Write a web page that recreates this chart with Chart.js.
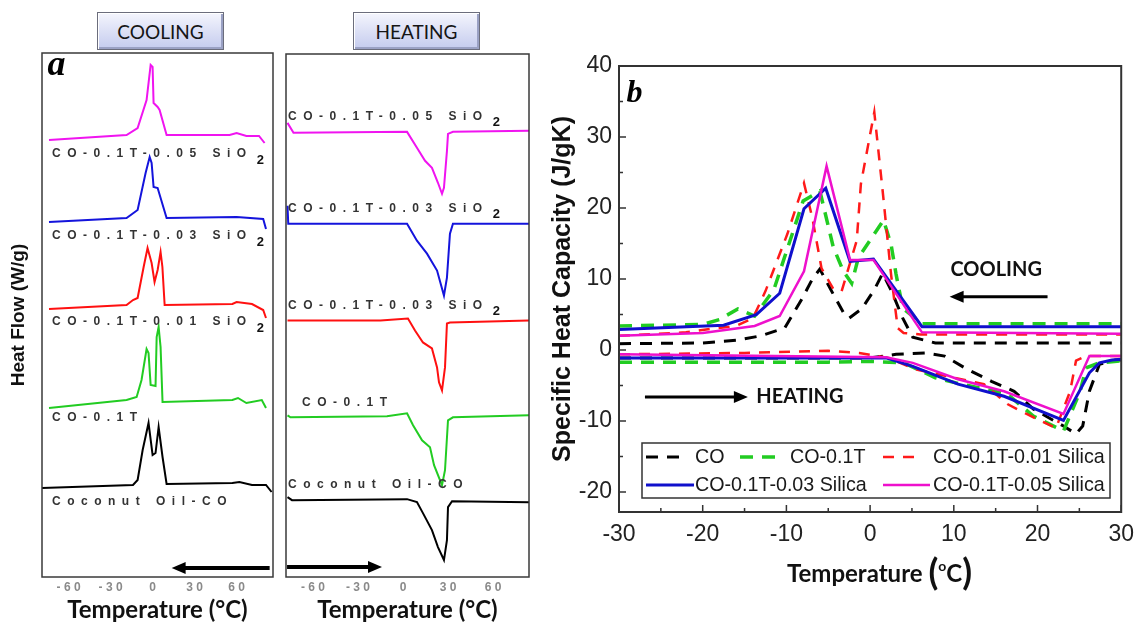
<!DOCTYPE html>
<html lang="en">
<head>
<meta charset="utf-8">
<title>DSC cooling / heating and specific heat capacity</title>
<script src="https://cdn.jsdelivr.net/npm/chart.js@4.4.1/dist/chart.umd.min.js"></script>
<style>
  html, body { margin: 0; padding: 0; background: #fff; }
  body { position: relative; width: 1143px; height: 625px; overflow: hidden; }
  canvas { position: absolute; top: 0; }
  #coolChart { left: 0; }
  #heatChart { left: 280px; }
  #cpChart { left: 540px; }
  .tab {
    position: absolute; top: 12px; width: 127px; height: 38px; box-sizing: border-box;
    border: 1px solid #6b6d7c; background: linear-gradient(#f4f5fd, #c4cbee);
    box-shadow: inset 1px 1px 0 #fff, inset -2px -2px 0 #9aa1c4;
    font: 19px Lato, sans-serif; color: #151515; text-align: center; line-height: 37px;
  }
  #tabCool { left: 97px; }
  #tabHeat { left: 353px; }
  #cpXTitle {
    position: absolute; left: 787px; top: 548px; white-space: nowrap;
    font: bold 24px Lato, sans-serif; color: #111; line-height: 40px;
  }
  #cpXTitle .paren { font-size: 36px; position: relative; top: 3px; }
  #cpXTitle sup { font-size: 14px; position: relative; top: -2px; }
</style>
</head>
<body>
<div class="tab" id="tabCool">COOLING</div>
<div class="tab" id="tabHeat">HEATING</div>
<canvas id="coolChart" width="280" height="625"></canvas>
<canvas id="heatChart" width="258" height="625"></canvas>
<canvas id="cpChart" width="603" height="625"></canvas>
<div id="cpXTitle">Temperature <span class="paren">(</span><sup>o</sup>C<span class="paren">)</span></div>

<script>
"use strict";

// ---------- panel a : DSC traces, [temperature °C, heat flow above own baseline (a.u.)]
const DSC_TICKS = [-60, -30, 0, 30, 60];
const COOL_NAMES = ["CO-0.1T-0.05 SiO", "CO-0.1T-0.03 SiO", "CO-0.1T-0.01 SiO", "CO-0.1T", "Coconut Oil-CO"];
const HEAT_NAMES = ["CO-0.1T-0.05 SiO", "CO-0.1T-0.03 SiO", "CO-0.1T-0.03 SiO", "CO-0.1T", "Coconut Oil-CO"];
const NAME_SUBS = ["2", "2", "2", "", ""];
const COOL_OFFSETS = [440, 358, 272, 176, 92];
const HEAT_OFFSETS = [446, 354, 257, 160, 77];

const coolMagenta = [[-74,-3],[-18.6,2],[-10.7,9],[-4.3,37],[-1.4,72],[0,70],[0.7,34],[3.6,30],[5,27],[10,2],[55,2],[60,4],[67,1],[76,1],[80,-6]];
const coolBlue = [[-74,-3],[-18.6,1],[-10.7,9],[-5,46],[-2.1,62],[-0.7,56],[0.7,32],[3.6,31],[10,1],[60,2],[79,0],[81,-10]];
const coolRed = [[-74,-4],[-18.6,0],[-14,5],[-10.7,7],[-6.4,38],[-3.6,57],[-0.7,42],[1.4,23],[3.6,35],[5.7,53],[7,38],[8.6,0],[57,1],[60,3],[71,1],[79,-5],[81,-13]];
const coolGreen = [[-74,-7],[-18.6,1],[-11.4,4],[-7.9,21],[-4.3,52],[-2.9,48],[-1.4,16],[2.1,15],[2.9,64],[4.3,74],[5.7,54],[7.1,-1],[57,1],[61,3],[67,-2],[78,1],[81,-7]];
const coolBlack = [[-79,-3],[-14,0],[-10.7,5],[-7.1,35],[-2.9,62],[0,30],[2.1,32],[4.3,58],[7.1,28],[10,1],[57,2],[62,3],[71,0],[81,0],[85,-7]];

const heatMagenta = [[-77,9],[-73,-1],[2.7,0],[9.3,-16],[14.7,-29],[19.3,-36],[23.3,-51],[26,-62],[27.3,-56],[29.3,-19],[30,-2],[33.3,0],[84,1]];
const heatBlue = [[-77,18],[-76.5,0],[-75,0],[2.7,0],[9.3,-17],[16,-30],[22.7,-47],[27.3,-72],[29.3,-54],[31.3,-10],[33.3,0],[84,0]];
const heatRed = [[-77,0],[-15,0],[3.3,2],[8,-10],[13.3,-22],[19.3,-28],[22.7,-47],[24,-62],[26,-70],[28,-47],[29.3,-3],[31.3,-2],[84,0]];
const heatGreen = [[-77,2],[-75,0],[-10.7,1],[2.7,4],[6.7,-8],[12.7,-23],[18,-30],[20.7,-48],[26,-68],[28,-53],[30,-3],[33.3,0],[84,2]];
const heatBlack = [[-77,3],[-74,0],[2.7,1],[9.3,-2],[13.3,-13],[19.3,-30],[23.3,-47],[27.3,-60],[29.3,-40],[30,-7],[32.7,-1],[84,-2]];

const DSC_COLORS = ["#f014f0", "#1414dc", "#ff1010", "#22cc22", "#000000"];

// ---------- panel b : specific heat capacity, [temperature °C, Cp J/gK]
const CP_X_TICKS = [-30, -20, -10, 0, 10, 20, 30];
const CP_Y_TICKS = [-20, -10, 0, 10, 20, 30, 40];
const CP_NAMES = ["CO", "CO-0.1T", "CO-0.1T-0.01 Silica", "CO-0.1T-0.03 Silica", "CO-0.1T-0.05 Silica"];

const cpCoolCO = [[-30,0.9],[-20,1.0],[-15.8,1.4],[-13.1,2.0],[-10.2,3.1],[-9.9,3.7],[-8.1,7.3],[-6.9,10.0],[-6.0,11.4],[-4.6,8.3],[-3.1,5.1],[-2.5,4.5],[-1.0,5.8],[0.5,8.5],[1.5,10.8],[2.6,8.2],[3.9,4.5],[5.1,1.8],[7.8,1.0],[30,1.0]];
const cpHeatCO = [[-30,-1.1],[0,-1.1],[3.1,-0.6],[6.6,-0.4],[8.9,-0.85],[11.6,-2.7],[14.5,-4.4],[17.2,-5.8],[19.5,-8.3],[23.1,-10.7],[24.6,-11.8],[25.4,-10.7],[26.2,-5.8],[27.4,-2.0],[29.3,-1.4],[30,-1.4]];
const cpCoolT = [[-30,3.4],[-20,3.6],[-18,4.3],[-15.8,5.8],[-13.8,4.8],[-11.5,8.5],[-8.0,21.0],[-6.0,22.4],[-4.4,14.5],[-3.2,11.1],[-2.2,9.4],[-1.4,13.0],[1.6,18.3],[2.5,14.9],[3.1,10.7],[3.9,5.9],[6.2,3.7],[30,3.7]];
const cpHeatT = [[-30,-1.7],[-5,-1.7],[0,-1.6],[4,-1.8],[7.8,-3.9],[10.9,-4.8],[16.4,-6.2],[19.5,-9.3],[23.1,-11.4],[25.1,-5.8],[25.8,-2.5],[27.4,-1.8],[30,-1.5]];
const cpCool001 = [[-30,2.0],[-22,2.5],[-19,3.0],[-16,3.4],[-14,4.5],[-12.5,8.3],[-9.9,16.3],[-7.9,23.5],[-6.9,18.6],[-5.8,11.5],[-4.4,8.6],[-3.4,8.3],[-1.6,15.4],[-1.1,23.4],[0.5,33.5],[1.5,22.4],[2.5,10.7],[3.3,3.1],[4.0,2.4],[6,2.2],[30,2.2]];
const cpHeat001 = [[-30,-0.6],[-15,-0.4],[-5,-0.1],[-1.3,-0.4],[2.2,-1.1],[5.4,-2.7],[8.1,-3.4],[13.6,-4.8],[16.4,-7.6],[18.7,-9.0],[22.2,-11.0],[23.9,-5.8],[24.6,-1.5],[25.8,-0.85],[30,-0.85]];
const cpCool003 = [[-30,2.9],[-17.5,3.5],[-13.6,5.0],[-10.8,8.0],[-7.9,19.9],[-5.3,22.8],[-2.4,12.5],[0.4,12.8],[6.2,3.3],[30,3.3]];
const cpHeat003 = [[-30,-1.1],[1.9,-1.1],[5.1,-2.3],[10.5,-4.8],[16,-6.5],[23.1,-9.9],[26.2,-3.2],[27.4,-1.8],[28.9,-1.4],[30,-1.3]];
const cpCool005 = [[-30,2.0],[-20,2.4],[-13.8,3.4],[-10.8,4.8],[-7.9,11.1],[-5.2,25.9],[-2.4,12.7],[0.4,12.7],[6.2,2.5],[30,2.3]];
const cpHeat005 = [[-30,-0.6],[1.9,-1.0],[5.1,-1.8],[10.5,-4.1],[16,-5.8],[23.1,-9.0],[26.2,-0.85],[30,-0.85]];

const CP_COLORS = ["#000000", "#22cc22", "#ff1a1a", "#1010cc", "#ee10cc"];
const CP_DASHES = [[12, 9], [13, 9], [11, 9], [], []];
const CP_WIDTHS = [3, 3.5, 2.5, 3, 2.5];

const SANS = "'Liberation Sans', Arial, sans-serif";
Chart.defaults.font.family = SANS;

function toPoints(points, offset) {
  return points.map((p) => ({ x: p[0], y: p[1] + (offset || 0) }));
}

// cooling and heating branch of one sample in one dataset, split by a gap
function bothBranches(cool, heat) {
  return toPoints(cool).concat([{ x: 30, y: null }], toPoints(heat));
}

function fixedTicks(list) {
  return (scale) => {
    scale.ticks = list.map((v) => ({ value: v }));
  };
}

const framePlugin = {
  id: "frame",
  afterDatasetsDraw(chart, args, opts) {
    const { ctx, chartArea: a } = chart;
    ctx.save();
    ctx.strokeStyle = opts.color;
    ctx.lineWidth = opts.width;
    ctx.strokeRect(a.left, a.top, a.right - a.left, a.bottom - a.top);
    ctx.restore();
  },
};

// tick marks pointing into the plot, majors on ticks and minors half way
const innerTicksPlugin = {
  id: "innerTicks",
  afterDatasetsDraw(chart, args, opts) {
    if (!opts.on) return;
    const { ctx, chartArea: a, scales } = chart;
    ctx.save();
    ctx.strokeStyle = opts.color;
    ctx.lineWidth = opts.width;
    ctx.beginPath();
    ["x", "y"].forEach((id) => {
      const s = scales[id];
      const vals = s.ticks.map((t) => t.value);
      const marks = vals.map((v) => [v, opts.major]);
      for (let i = 0; i < vals.length - 1; i++) marks.push([(vals[i] + vals[i + 1]) / 2, opts.minor]);
      marks.forEach(([v, len]) => {
        if (v < s.min || v > s.max) return;
        const p = s.getPixelForValue(v);
        if (id === "x") {
          ctx.moveTo(p, a.bottom);
          ctx.lineTo(p, a.bottom - len);
        } else {
          ctx.moveTo(a.left, p);
          ctx.lineTo(a.left + len, p);
        }
      });
    });
    ctx.stroke();
    ctx.restore();
  },
};

// free text and arrows placed in data coordinates
const notesPlugin = {
  id: "notes",
  afterDatasetsDraw(chart, args, opts) {
    if (!opts.items) return;
    const { ctx, scales } = chart;
    ctx.save();
    opts.items.forEach((n) => {
      if (n.type === "text") {
        ctx.font = n.font;
        ctx.fillStyle = n.color || "#111";
        ctx.textAlign = n.align || "left";
        ctx.textBaseline = n.baseline || "middle";
        ctx.fillText(n.text, scales.x.getPixelForValue(n.x), scales.y.getPixelForValue(n.y));
      } else if (n.type === "arrow") {
        const x1 = scales.x.getPixelForValue(n.from);
        const x2 = scales.x.getPixelForValue(n.to);
        const y = scales.y.getPixelForValue(n.y);
        const dir = x2 > x1 ? 1 : -1;
        ctx.strokeStyle = "#000";
        ctx.fillStyle = "#000";
        ctx.lineWidth = n.width;
        ctx.beginPath();
        ctx.moveTo(x1, y);
        ctx.lineTo(x2 - dir * n.head * 0.8, y);
        ctx.stroke();
        ctx.beginPath();
        ctx.moveTo(x2, y);
        ctx.lineTo(x2 - dir * n.head, y - n.half);
        ctx.lineTo(x2 - dir * n.head, y + n.half);
        ctx.closePath();
        ctx.fill();
      }
    });
    ctx.restore();
  },
};

// sample names under / over each stacked DSC trace
const traceNamesPlugin = {
  id: "traceNames",
  afterDatasetsDraw(chart, args, opts) {
    if (!opts.items) return;
    const { ctx, chartArea: a, scales } = chart;
    ctx.save();
    ctx.textBaseline = "middle";
    ctx.fillStyle = "#333";
    opts.items.forEach((it) => {
      const x = a.left + it.dx;
      const y = scales.y.getPixelForValue(it.y);
      ctx.font = "bold 12px " + SANS;
      ctx.letterSpacing = opts.spacing + "px";
      ctx.fillText(it.text, x, y);
      const w = ctx.measureText(it.text).width;
      if (it.sub) {
        ctx.letterSpacing = "0px";
        ctx.font = "bold 13px " + SANS;
        ctx.fillStyle = "#111";
        ctx.fillText(it.sub, x + w + 4, y + 6);
        ctx.fillStyle = "#333";
      }
    });
    ctx.restore();
  },
};

// boxed legend inside the plot of panel b
const cpLegendPlugin = {
  id: "cpLegend",
  afterDatasetsDraw(chart, args, opts) {
    if (!opts.entries) return;
    const { ctx, chartArea: a } = chart;
    const bx = a.left + opts.left;
    const by = a.top + opts.top;
    ctx.save();
    ctx.fillStyle = "#fff";
    ctx.fillRect(bx, by, opts.width, opts.height);
    ctx.strokeStyle = "#333";
    ctx.lineWidth = 1.5;
    ctx.strokeRect(bx, by, opts.width, opts.height);
    ctx.font = "19.7px " + SANS;
    ctx.textBaseline = "middle";
    opts.entries.forEach((e) => {
      const ds = chart.data.datasets[e.index];
      const y = by + opts.rows[e.row];
      ctx.strokeStyle = ds.borderColor;
      ctx.lineWidth = ds.borderWidth;
      ctx.setLineDash(ds.borderDash || []);
      ctx.beginPath();
      ctx.moveTo(bx + e.sx, y);
      ctx.lineTo(bx + e.sx + e.sw, y);
      ctx.stroke();
      ctx.setLineDash([]);
      ctx.fillStyle = "#1a1a1a";
      ctx.fillText(ds.label, bx + e.tx, y + 1);
    });
    ctx.restore();
  },
};

function dscDatasets(traces, offsets) {
  return traces.map((t, i) => ({
    data: toPoints(t, offsets[i]),
    borderColor: DSC_COLORS[i],
    borderWidth: 2,
    pointRadius: 0,
    tension: 0,
    fill: false,
  }));
}

function dscOptions(cfg) {
  return {
    responsive: false,
    animation: false,
    events: [],
    layout: { padding: cfg.padding },
    plugins: {
      legend: { display: false },
      tooltip: { enabled: false },
      frame: { color: "#3a3a3a", width: 1.5 },
      innerTicks: { on: false },
      traceNames: { items: cfg.names, spacing: 6.5 },
      notes: { items: cfg.notes },
    },
    scales: {
      x: {
        type: "linear",
        min: cfg.xmin,
        max: cfg.xmax,
        afterBuildTicks: fixedTicks(DSC_TICKS),
        grid: { display: false, drawTicks: false },
        border: { display: false },
        ticks: {
          color: "#8a8a8a",
          font: { size: 12, weight: "bold" },
          padding: 3,
          maxRotation: 0,
          autoSkip: false,
          callback: (v) => String(v).split("").join(" "),
        },
        title: {
          display: true,
          text: "Temperature (°C)",
          color: "#111",
          font: { family: "Lato", size: 24, weight: "bold" },
          padding: { top: 0, bottom: 0 },
        },
        afterFit: (s) => { s.height = 48; },
      },
      y: {
        min: 0,
        max: 524,
        display: cfg.showY,
        grid: { display: false, drawTicks: false },
        border: { display: false },
        ticks: { display: false },
        title: {
          display: cfg.showY,
          text: "Heat Flow (W/g)",
          color: "#111",
          font: { size: 19, weight: "bold" },
          padding: { top: 7, bottom: 0 },
        },
        afterFit: (s) => { s.width = cfg.showY ? 42 : 0; },
      },
    },
  };
}

const coolTraces = [coolMagenta, coolBlue, coolRed, coolGreen, coolBlack];
const heatTraces = [heatMagenta, heatBlue, heatRed, heatGreen, heatBlack];

new Chart(document.getElementById("coolChart"), {
  type: "line",
  data: { datasets: dscDatasets(coolTraces, COOL_OFFSETS) },
  options: dscOptions({
    padding: { top: 53, right: 7, left: 0, bottom: 0 },
    xmin: -79,
    xmax: 86,
    showY: true,
    names: COOL_NAMES.map((n, i) => ({ text: n, sub: NAME_SUBS[i], dx: 10, y: COOL_OFFSETS[i] - 17 })),
    notes: [
      { type: "text", text: "a", x: -75, y: 502, baseline: "alphabetic", font: "italic bold 36px 'Liberation Serif', serif", color: "#000" },
      { type: "arrow", from: 83.6, to: 13.6, y: 9, width: 4, head: 14, half: 6 },
    ],
  }),
  plugins: [framePlugin, innerTicksPlugin, traceNamesPlugin, notesPlugin],
});

new Chart(document.getElementById("heatChart"), {
  type: "line",
  data: { datasets: dscDatasets(heatTraces, HEAT_OFFSETS) },
  options: dscOptions({
    padding: { top: 54, right: 9, left: 6, bottom: 0 },
    xmin: -78,
    xmax: 84,
    showY: false,
    names: HEAT_NAMES.map((n, i) => ({ text: n, sub: NAME_SUBS[i], dx: i === 3 ? 16 : 2, y: HEAT_OFFSETS[i] + 15 })),
    notes: [
      { type: "arrow", from: -77.3, to: -14, y: 10, width: 4, head: 14, half: 6 },
    ],
  }),
  plugins: [framePlugin, innerTicksPlugin, traceNamesPlugin, notesPlugin],
});

const cpCool = [cpCoolCO, cpCoolT, cpCool001, cpCool003, cpCool005];
const cpHeat = [cpHeatCO, cpHeatT, cpHeat001, cpHeat003, cpHeat005];
const CP_DRAW_ORDER = [4, 3, 2, 1, 0];

new Chart(document.getElementById("cpChart"), {
  type: "line",
  data: {
    datasets: CP_NAMES.map((name, i) => ({
      label: name,
      data: bothBranches(cpCool[i], cpHeat[i]),
      borderColor: CP_COLORS[i],
      borderWidth: CP_WIDTHS[i],
      borderDash: CP_DASHES[i],
      order: CP_DRAW_ORDER[i],
      pointRadius: 0,
      tension: 0,
      fill: false,
      spanGaps: false,
    })),
  },
  options: {
    responsive: false,
    animation: false,
    events: [],
    layout: { padding: { top: 66, right: 14, left: 0, bottom: 0 } },
    plugins: {
      legend: { display: false },
      tooltip: { enabled: false },
      frame: { color: "#333", width: 2 },
      innerTicks: { on: true, color: "#333", width: 1.5, major: 7, minor: 4 },
      cpLegend: {
        left: 23, top: 377, width: 468, height: 55, rows: [14, 42],
        entries: [
          { index: 0, row: 0, sx: 4, sw: 38, tx: 53 },
          { index: 1, row: 0, sx: 98, sw: 38, tx: 148 },
          { index: 2, row: 0, sx: 241, sw: 36, tx: 291 },
          { index: 3, row: 1, sx: 4, sw: 48, tx: 53 },
          { index: 4, row: 1, sx: 241, sw: 47, tx: 291 },
        ],
      },
      notes: {
        items: [
          { type: "text", text: "b", x: -29.1, y: 34.9, baseline: "alphabetic", font: "italic bold 32px 'Liberation Serif', serif", color: "#000" },
          { type: "text", text: "COOLING", x: 15.06, y: 11.3, align: "center", font: "bold 20px Lato, sans-serif" },
          { type: "arrow", from: 21.2, to: 9.5, y: 7.5, width: 3, head: 14, half: 6 },
          { type: "text", text: "HEATING", x: -13.6, y: -6.6, font: "bold 20px Lato, sans-serif" },
          { type: "arrow", from: -26.9, to: -14.6, y: -6.6, width: 3, head: 14, half: 6 },
        ],
      },
    },
    scales: {
      x: {
        type: "linear",
        min: -30,
        max: 30,
        afterBuildTicks: fixedTicks(CP_X_TICKS),
        grid: { display: false, drawTicks: false },
        border: { display: false },
        ticks: { color: "#222", font: { size: 23 }, padding: 9, maxRotation: 0, autoSkip: false },
        afterFit: (s) => { s.height = 113; },
      },
      y: {
        min: -22.8,
        max: 40,
        afterBuildTicks: fixedTicks(CP_Y_TICKS),
        grid: { display: false, drawTicks: false },
        border: { display: false },
        ticks: { color: "#222", font: { size: 23 }, padding: 7 },
        title: {
          display: true,
          text: "Specific Heat Capacity (J/gK)",
          color: "#111",
          font: { size: 25, weight: "bold" },
          padding: { top: 8, bottom: 0 },
        },
        afterFit: (s) => { s.width = 79; },
      },
    },
  },
  plugins: [framePlugin, innerTicksPlugin, cpLegendPlugin, notesPlugin],
});
</script>
</body>
</html>
